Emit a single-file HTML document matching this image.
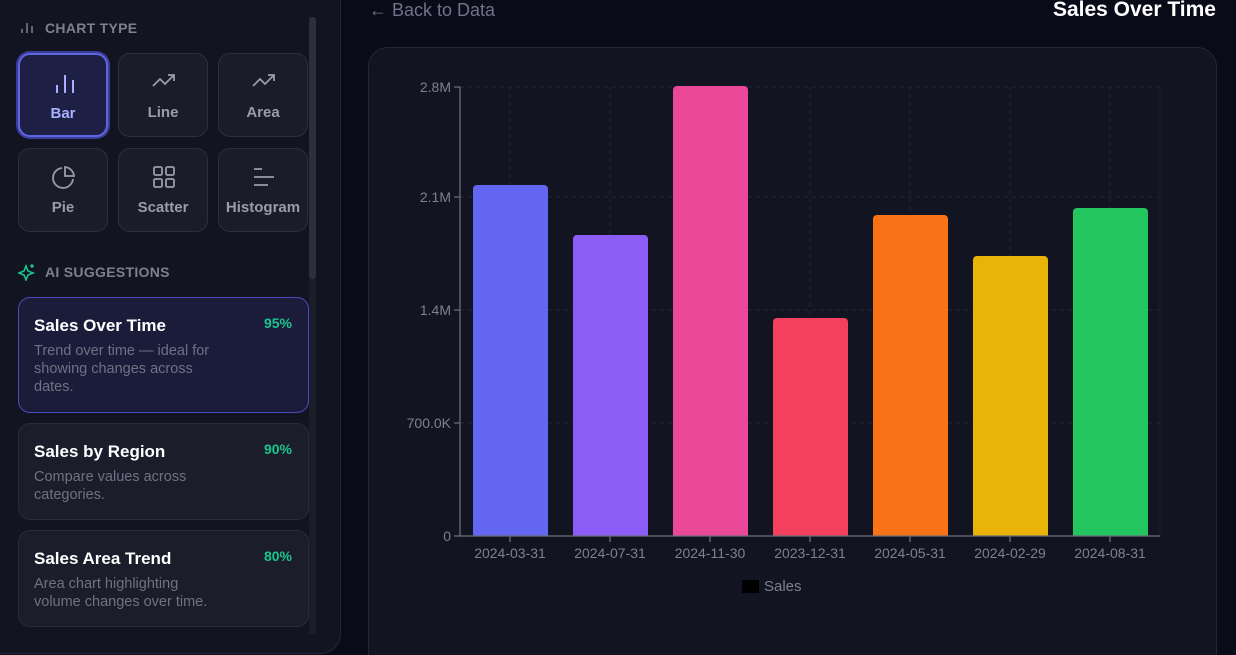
<!DOCTYPE html>
<html><head><meta charset="utf-8"><style>
*{box-sizing:border-box;margin:0;padding:0}
html,body{width:1236px;height:655px;overflow:hidden}
body{background:#0a0b18;font-family:"Liberation Sans",sans-serif}
#w{position:relative;width:1236px;height:655px;overflow:hidden}
.side{position:absolute;left:-20px;top:-20px;width:361px;height:674px;background:#121421;border:1px solid #23263a;border-radius:20px}
.sec{position:absolute;left:45px;font-size:14px;font-weight:bold;color:#7d8091;letter-spacing:.3px}
.btn{position:absolute;width:90px;height:84px;border:1px solid #2c2f40;border-radius:12px;background:#1a1c2a;color:#9a9cab;font-size:15px;font-weight:bold;text-align:center}
.btn svg{position:absolute;left:33px;top:16px}
.btn span{position:absolute;left:0;right:0;top:50px}
.card{position:absolute;left:18px;width:291px;border:1px solid #282b3b;border-radius:12px;background:#1b1d2b}
.card h3{position:absolute;left:15px;top:18px;font-size:17px;color:#fff;font-weight:bold}
.card p{position:absolute;left:15px;top:44px;font-size:14.5px;line-height:18px;color:#6f7283;width:190px}
.card b{position:absolute;right:16px;top:17px;color:#19c58c;font-size:14px}
.scroll{position:absolute;left:309px;top:17px;width:7px;height:617px;background:#1b1d29}
.scroll div{width:7px;height:262px;background:#2c2f3d;border-radius:4px}
</style></head><body><div id="w">
<div class="side"></div>
<div class="scroll"><div></div></div>
<svg style="position:absolute;left:20px;top:20px" width="14" height="14"><path d="M2 13V9M7 13V3M12 13V6" stroke="#7d8091" stroke-width="1.5"/></svg>
<div class="sec" style="top:20px">CHART TYPE</div>
<div class="btn" style="left:18px;top:53px;background:#1e1f45;border:2px solid #6065e0;box-shadow:0 0 0 2px #3a3d9a;color:#a8b0ff"><svg width="24" height="24"><path d="M4 22V14M12 22V4M20 22V9" stroke="#a8b0ff" stroke-width="2"/></svg><span>Bar</span></div>
<div class="btn" style="left:118px;top:53px"><svg width="24" height="24"><path d="M1 16L8 9L13 14L22 5M16 5H22V11" stroke="#9a9cab" stroke-width="1.8" fill="none"/></svg><span>Line</span></div>
<div class="btn" style="left:218px;top:53px"><svg width="24" height="24"><path d="M1 16L8 9L13 14L22 5M16 5H22V11" stroke="#9a9cab" stroke-width="1.8" fill="none"/></svg><span>Area</span></div>
<div class="btn" style="left:18px;top:148px"><svg width="24" height="24"><path d="M21 14A10 10 0 1 1 10 3" stroke="#9a9cab" stroke-width="1.8" fill="none"/><path d="M13 2A10 10 0 0 1 22 11H13Z" stroke="#9a9cab" stroke-width="1.8" fill="none"/></svg><span>Pie</span></div>
<div class="btn" style="left:118px;top:148px"><svg width="24" height="24"><g stroke="#9a9cab" stroke-width="1.8" fill="none"><rect x="2" y="2" width="8" height="8" rx="1.5"/><rect x="14" y="2" width="8" height="8" rx="1.5"/><rect x="2" y="14" width="8" height="8" rx="1.5"/><rect x="14" y="14" width="8" height="8" rx="1.5"/></g></svg><span>Scatter</span></div>
<div class="btn" style="left:218px;top:148px"><svg width="24" height="24"><path d="M2 4H10M2 12H22M2 20H16" stroke="#9a9cab" stroke-width="1.8"/></svg><span>Histogram</span></div>
<svg style="position:absolute;left:18px;top:263px" width="18" height="18"><path d="M8 3L10 8L15 10L10 12L8 17L6 12L1 10L6 8Z" stroke="#19c58c" stroke-width="1.6" fill="none"/><path d="M14 1V5M12 3H16" stroke="#19c58c" stroke-width="1.4"/></svg>
<div class="sec" style="top:264px">AI SUGGESTIONS</div>
<div class="card" style="top:297px;height:116px;background:#1b1b3a;border-color:#4a4db8"><h3>Sales Over Time</h3><b>95%</b><p>Trend over time — ideal for showing changes across dates.</p></div>
<div class="card" style="top:423px;height:97px"><h3>Sales by Region</h3><b>90%</b><p>Compare values across categories.</p></div>
<div class="card" style="top:530px;height:97px"><h3>Sales Area Trend</h3><b>80%</b><p>Area chart highlighting volume changes over time.</p></div>

<div style="position:absolute;left:369px;top:0;color:#70738a;font-size:18px">&#8592;&nbsp;Back to Data</div>
<div style="position:absolute;right:20px;top:-2px;color:#fff;font-size:21px;font-weight:bold">Sales Over Time</div>
<div style="position:absolute;left:368px;top:47px;width:849px;height:640px;background:#121421;border:1px solid #23263a;border-radius:20px"></div>
<svg style="position:absolute;left:0;top:0" width="1236" height="655" font-family="Liberation Sans, sans-serif">
<g stroke="#23263a" stroke-dasharray="4 4">
<path d="M460 87H1160M460 197H1160M460 310H1160M460 423H1160"/>
<path d="M510 87V536M610 87V536M710 87V536M810 87V536M910 87V536M1010 87V536M1110 87V536M1160 87V536"/>
</g>
<g>
<path d="M473 536V189a4 4 0 0 1 4-4h67a4 4 0 0 1 4 4V536Z" fill="#6366f1"/>
<path d="M573 536V239a4 4 0 0 1 4-4h67a4 4 0 0 1 4 4V536Z" fill="#8b5cf6"/>
<path d="M673 536V90a4 4 0 0 1 4-4h67a4 4 0 0 1 4 4V536Z" fill="#ec4899"/>
<path d="M773 536V322a4 4 0 0 1 4-4h67a4 4 0 0 1 4 4V536Z" fill="#f43f5e"/>
<path d="M873 536V219a4 4 0 0 1 4-4h67a4 4 0 0 1 4 4V536Z" fill="#f97316"/>
<path d="M973 536V260a4 4 0 0 1 4-4h67a4 4 0 0 1 4 4V536Z" fill="#eab308"/>
<path d="M1073 536V212a4 4 0 0 1 4-4h67a4 4 0 0 1 4 4V536Z" fill="#22c55e"/>
</g>
<g stroke="#6b6e7c" stroke-width="1.3" fill="none">
<path d="M460 87V536H1160"/>
<path d="M454 87H460M454 197H460M454 310H460M454 423H460M454 536H460"/>
<path d="M510 536V542M610 536V542M710 536V542M810 536V542M910 536V542M1010 536V542M1110 536V542"/>
</g>
<g fill="#7d8091" font-size="14" text-anchor="end">
<text x="451" y="92">2.8M</text><text x="451" y="202">2.1M</text><text x="451" y="315">1.4M</text><text x="451" y="428">700.0K</text><text x="451" y="541">0</text>
</g>
<g fill="#7d8091" font-size="14" text-anchor="middle">
<text x="510" y="558">2024-03-31</text><text x="610" y="558">2024-07-31</text><text x="710" y="558">2024-11-30</text><text x="810" y="558">2023-12-31</text><text x="910" y="558">2024-05-31</text><text x="1010" y="558">2024-02-29</text><text x="1110" y="558">2024-08-31</text>
</g>
<rect x="742" y="580" width="17" height="13" fill="#000"/>
<text x="764" y="591" fill="#7d8091" font-size="15">Sales</text>
</svg>
</div></body></html>
